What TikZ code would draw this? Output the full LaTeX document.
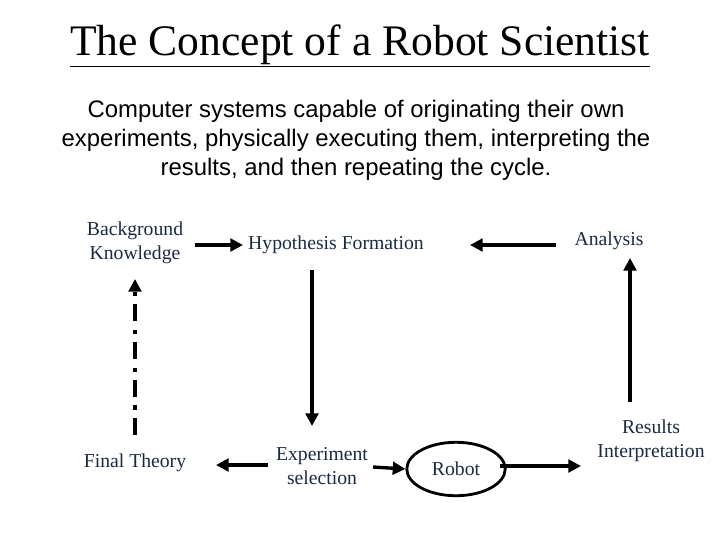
\documentclass[tikz,border=0pt]{standalone}
\usepackage{fontspec}
\setmainfont{Liberation Serif}
\newfontfamily\subfont{Liberation Sans}
\usetikzlibrary{arrows.meta,shapes.geometric}
\definecolor{navy}{HTML}{1A2A40}
\tikzset{
	box/.style={text=navy, font=\fontsize{14}{17}\selectfont, align=center},
	flow/.style={-{Triangle[length=9pt,width=9pt]}, line width=2.4pt},
}
\begin{document}
\begin{tikzpicture}[x=0.025cm,y=-0.025cm]
		\useasboundingbox (0,0) rectangle (720,540);
		% Title
		\node[font=\fontsize{31}{36}\selectfont] (title) at (360,46) {\underline{The Concept of a Robot Scientist}};
		\node[font=\subfont\fontsize{17}{20.5}\selectfont, align=center] (sub) at (356,140)
			{Computer systems capable of originating their own\\experiments, physically executing them, interpreting the\\results, and then repeating the cycle.};
		% Top row
		\node[box] (BK) at (135,243) {Background\\Knowledge};
		\node[box] (HF) at (336,245) {Hypothesis Formation};
		\node[box] (An) at (609,241) {Analysis};
		% Bottom row
		\node[box] (FT) at (135,463) {Final Theory};
		\node[box] (ES) at (322,466) {Experiment\\selection};
		\node[box, draw=black, line width=2pt, ellipse, inner sep=0pt, minimum width=70, minimum height=38] (Rb) at (456,469) {Robot};
		\node[box] (RI) at (651,441) {Results\\Interpretation};
		% Arrow ends
		\coordinate (a1) at (195,245); \coordinate (a2) at (243,245);
		\coordinate (a3) at (556,245); \coordinate (a4) at (470,245);
		\coordinate (a5) at (312,270); \coordinate (a6) at (312,426);
		\coordinate (a7) at (135,435); \coordinate (a8) at (135,279);
		\coordinate (a9) at (268,465); \coordinate (a10) at (216,465);
		\coordinate (a11) at (373,467);
		\coordinate (a12) at (500,466); \coordinate (a13) at (581,466);
		\coordinate (a14) at (630,402); \coordinate (a15) at (630,258);
		% Arrows
		\draw[flow] (a1) -- (a2);
		\draw[flow] (a3) -- (a4);
		\draw[flow] (a5) -- (a6);
		\draw[flow, dash pattern=on 12pt off 6pt on 3pt off 6pt] (a7) -- (a8);
		\draw[flow] (a9) -- (a10);
		\draw[flow] (a11) -- (Rb.west);
		\draw[flow] (a12) -- (a13);
		\draw[flow] (a14) -- (a15);
	\end{tikzpicture}
\end{document}
